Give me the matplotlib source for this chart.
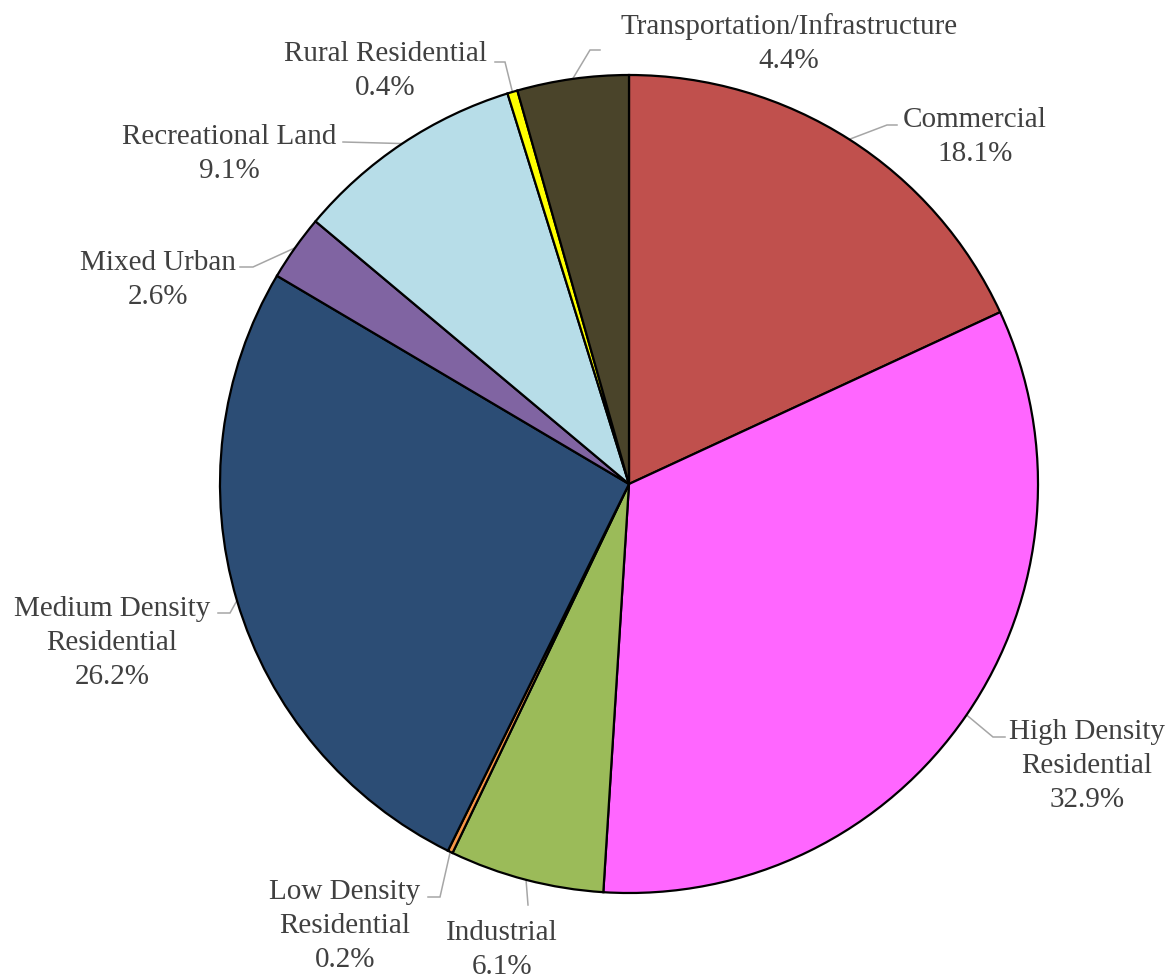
import matplotlib
matplotlib.use("Agg")
import matplotlib.pyplot as plt
import numpy as np

categories = ["Commercial", "High Density\nResidential", "Industrial",
              "Low Density\nResidential", "Medium Density\nResidential",
              "Mixed Urban", "Recreational Land", "Rural Residential",
              "Transportation/Infrastructure"]
values = [18.1, 32.9, 6.1, 0.2, 26.2, 2.6, 9.1, 0.4, 4.4]
colors = ["#C0504D", "#FF66FF", "#9BBB59", "#F79646", "#2C4D75",
          "#8064A2", "#B7DDE8", "#FFFF00", "#4A442A"]

W, H = 1173, 980
CX, CY, R = 629, 484, 409

def p2d(px, py):
    return ((px - CX) / R, (CY - py) / R)

# label layout in pixel coords: text center, elbow point, end of horizontal segment
layout = {
    0: dict(text=(975, 137), elbow=(887, 125), end=(897, 125)),
    1: dict(text=(1087, 766), elbow=(993, 737), end=(1005, 737)),
    2: dict(text=(502, 950), elbow=(528, 905), end=(528, 905)),
    3: dict(text=(345, 926), elbow=(440, 897), end=(428, 897)),
    4: dict(text=(112, 643), elbow=(230, 613), end=(218, 613)),
    5: dict(text=(158, 280), elbow=(253, 267), end=(240, 267)),
    6: dict(text=(229, 154), elbow=(343, 142), end=(343, 142)),
    7: dict(text=(385, 71), elbow=(505, 62), end=(495, 62)),
    8: dict(text=(789, 44), elbow=(590, 50), end=(600, 50)),
}

fig = plt.figure(figsize=(W / 100, H / 100), dpi=100)
ax = fig.add_axes([0, 0, 1, 1])

wedges, _ = ax.pie(values, colors=colors, startangle=90, counterclock=False,
                   radius=1.0, center=(0, 0),
                   wedgeprops=dict(edgecolor="black", linewidth=1.6))
ax.set_xlim(-CX / R, (W - CX) / R)
ax.set_ylim(-(H - CY) / R, CY / R)
ax.set_aspect("equal")
ax.axis("off")

total = sum(values)
cum = np.cumsum([0] + values)
for i, (cat, v) in enumerate(zip(categories, values)):
    mid = (cum[i] + v / 2) / total * 2 * np.pi
    ax_x, ax_y = np.sin(mid), np.cos(mid)
    L = layout[i]
    ex, ey = p2d(*L["elbow"])
    nx, ny = p2d(*L["end"])
    ax.plot([ax_x, ex, nx], [ax_y, ey, ny], color="#A6A6A6", lw=1.1,
            solid_joinstyle="miter", zorder=0.5)
    tx, ty = p2d(*L["text"])
    ax.text(tx, ty, f"{cat}\n{v:.1f}%", ha="center", va="center",
            fontsize=21, family="Liberation Serif", color="#404040",
            linespacing=1.4)

fig.savefig("out.png", dpi=100)
